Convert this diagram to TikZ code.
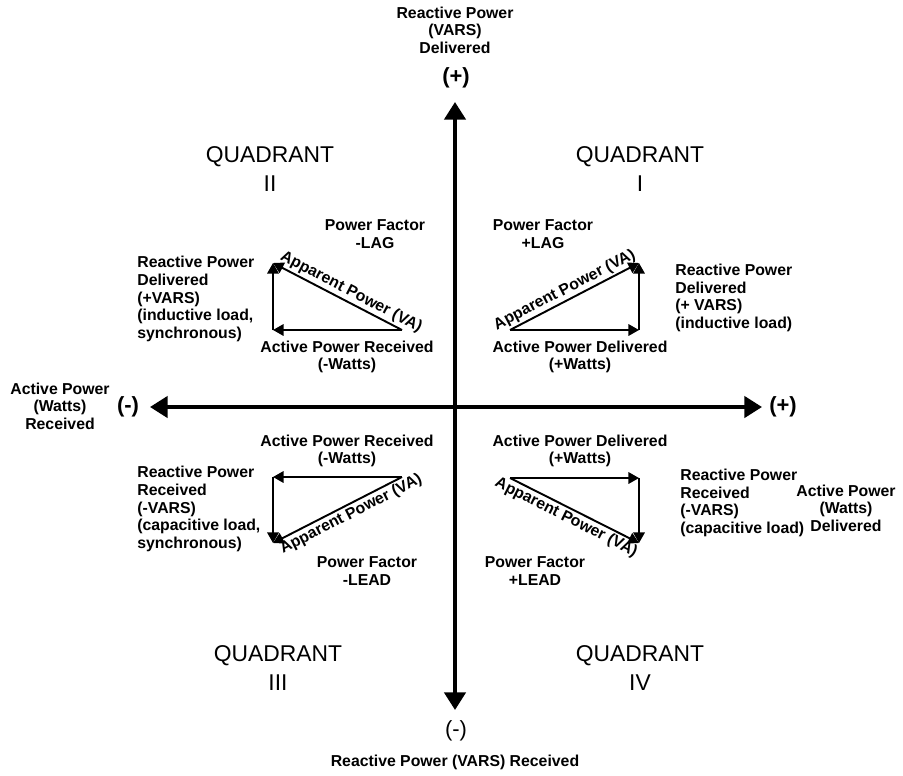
\documentclass[tikz,border=0pt]{standalone}
\usepackage{fontspec}
\setmainfont{Liberation Sans}
\usetikzlibrary{arrows.meta, positioning}

\tikzset{
    lbl/.style={font=\bfseries\fontsize{9}{10}\selectfont, align=center, inner sep=0pt},
    lbll/.style={lbl, align=left, anchor=west},
    quad/.style={font=\fontsize{13}{16}\selectfont, align=center, inner sep=0pt},
    sgn/.style={font=\bfseries\fontsize{12.5}{14}\selectfont, inner sep=0pt},
    axis/.style={line width=2.2pt, {Triangle[length=10pt, width=12pt]}-{Triangle[length=10pt, width=12pt]}},
    vec/.style={line width=1.1pt, -{Triangle[length=6pt, width=6.5pt]}},
    va/.style={lbl, sloped, inner sep=1pt}
}

\begin{document}
\begin{tikzpicture}[x=0.02cm, y=-0.02cm]
    \useasboundingbox (0, 0) rectangle (903, 775);

    % axes
    \coordinate (xl) at (150, 407);
    \coordinate (xr) at (762, 407);
    \coordinate (yt) at (455, 102);
    \coordinate (yb) at (455, 710);
    \draw[axis] (xl) -- (xr);
    \draw[axis] (yt) -- (yb);

    \node[lbl] (ytop) at (455, 30) {Reactive Power\\(VARS)\\Delivered};
    \node[sgn] (yplus) at (456, 78) {(+)};
    \node[sgn, font=\fontsize{12.5}{14}\selectfont] (yminus) at (456, 731) {(-)};
    \node[lbl] (ybot) at (455, 762) {Reactive Power (VARS) Received};
    \node[lbl] (xleft) at (60, 406) {Active Power\\(Watts)\\Received};
    \node[sgn] (xminus) at (128, 407) {(-)};
    \node[sgn] (xplus) at (783, 407) {(+)};
    \node[lbl] (xright) at (846, 508) {Active Power\\(Watts)\\Delivered};

    \node[quad] (q1) at (640, 169) {QUADRANT\\I};
    \node[quad] (q2) at (270, 169) {QUADRANT\\II};
    \node[quad] (q3) at (278, 668) {QUADRANT\\III};
    \node[quad] (q4) at (640, 668) {QUADRANT\\IV};

    % quadrant I
    \coordinate (a1) at (510, 330);
    \coordinate (b1) at (639, 330);
    \coordinate (c1) at (639, 263);
    \draw[vec] (a1) -- (b1);
    \draw[vec] (b1) -- (c1);
    \draw[vec] (a1) -- node[va, above, pos=0.46] (va1) {Apparent Power (VA)} (c1);
    \node[lbl] (pf1) at (543, 234) {Power Factor\\+LAG};
    \node[lbl] (ap1) at (580, 357) {Active Power Delivered\\(+Watts)};
    \node[lbll] (rp1) at (675, 298) {Reactive Power\\Delivered\\(+ VARS)\\(inductive load)};

    % quadrant II
    \coordinate (a2) at (273, 330);
    \coordinate (b2) at (402, 330);
    \coordinate (c2) at (273, 263);
    \draw[vec] (b2) -- (a2);
    \draw[vec] (a2) -- (c2);
    \draw[vec] (b2) -- node[va, above, pos=0.43] (va2) {Apparent Power (VA)} (c2);
    \node[lbl] (pf2) at (375, 234) {Power Factor\\-LAG};
    \node[lbl] (ap2) at (347, 357) {Active Power Received\\(-Watts)};
    \node[lbll] (rp2) at (137, 299) {Reactive Power\\Delivered\\(+VARS)\\(inductive load,\\synchronous)};

    % quadrant III
    \coordinate (a3) at (273, 477);
    \coordinate (b3) at (402, 477);
    \coordinate (c3) at (273, 543);
    \draw[vec] (b3) -- (a3);
    \draw[vec] (a3) -- (c3);
    \draw[vec] (b3) -- node[va, below, pos=0.43] (va3) {Apparent Power (VA)} (c3);
    \node[lbl] (ap3) at (347, 451) {Active Power Received\\(-Watts)};
    \node[lbl] (pf3) at (367, 571) {Power Factor\\-LEAD};
    \node[lbll] (rp3) at (137, 509) {Reactive Power\\Received\\(-VARS)\\(capacitive load,\\synchronous)};

    % quadrant IV
    \coordinate (a4) at (510, 478);
    \coordinate (b4) at (639, 478);
    \coordinate (c4) at (639, 543);
    \draw[vec] (a4) -- (b4);
    \draw[vec] (b4) -- (c4);
    \draw[vec] (a4) -- node[va, below, pos=0.47] (va4) {Apparent Power (VA)} (c4);
    \node[lbl] (ap4) at (580, 451) {Active Power Delivered\\(+Watts)};
    \node[lbl] (pf4) at (535, 571) {Power Factor\\+LEAD};
    \node[lbll] (rp4) at (680, 503) {Reactive Power\\Received\\(-VARS)\\(capacitive load)};
\end{tikzpicture}
\end{document}
